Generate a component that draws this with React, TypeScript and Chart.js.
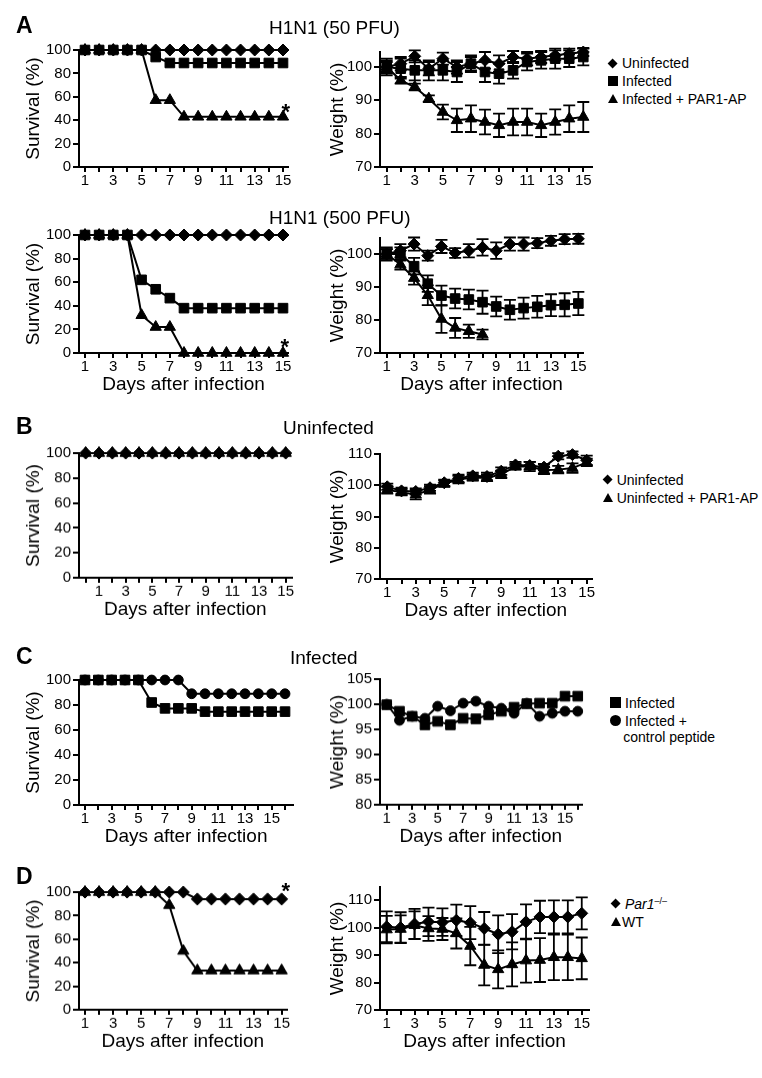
import React, { useEffect, useRef } from "react";
import { Chart, registerables } from "chart.js";
Chart.register(...registerables);

const FONT = "'Liberation Sans', Arial, Helvetica, sans-serif";

// ---------- categories / tick values ----------
const days15 = [1, 2, 3, 4, 5, 6, 7, 8, 9, 10, 11, 12, 13, 14, 15];
const days0to15 = [0, 1, 2, 3, 4, 5, 6, 7, 8, 9, 10, 11, 12, 13, 14, 15];
const days16 = [1, 2, 3, 4, 5, 6, 7, 8, 9, 10, 11, 12, 13, 14, 15, 16];
const oddDayLabels = [1, 3, 5, 7, 9, 11, 13, 15];
const survivalTicks = [0, 20, 40, 60, 80, 100];
const weightTicks70to100 = [70, 80, 90, 100];
const weightTicks70to110 = [70, 80, 90, 100, 110];
const weightTicks80to105 = [80, 85, 90, 95, 100, 105];

// ---------- A: H1N1 (50 PFU) ----------
const a50SurvUninfected = [100, 100, 100, 100, 100, 100, 100, 100, 100, 100, 100, 100, 100, 100, 100];
const a50SurvInfected = [100, 100, 100, 100, 100, 94, 88.9, 88.9, 88.9, 88.9, 88.9, 88.9, 88.9, 88.9, 88.9];
const a50SurvPar1 = [100, 100, 100, 100, 100, 57.1, 57.1, 42.9, 42.9, 42.9, 42.9, 42.9, 42.9, 42.9, 42.9];
const a50WtUninfected = [100, 101, 103.2, 99.5, 102.5, 100, 101, 102, 101, 103, 102.5, 103, 103.5, 104, 104.5];
const a50WtUninfectedErr = [2, 2, 1.8, 2, 1.8, 2, 2, 2.5, 2.5, 1.8, 2, 1.8, 1.5, 1.5, 1.2];
const a50WtInfected = [100, 99.5, 99, 99, 99, 98.5, 101, 98.5, 98, 99, 101.5, 102, 102.5, 102.5, 103];
const a50WtInfectedErr = [2.5, 3, 3, 3, 3, 3, 2.5, 3, 3, 2.5, 2.5, 2.5, 3, 2.5, 2.5];
const a50WtPar1 = [100, 96, 94, 90.5, 86.5, 84, 84.5, 83.5, 82.5, 83.5, 83.5, 82.5, 83.5, 84.5, 85];
const a50WtPar1Err = [1.5, 1, 1, 1, 2.2, 3.5, 4, 3.7, 3.5, 4, 4, 3.5, 3.8, 4, 4.5];

// ---------- A: H1N1 (500 PFU) ----------
const a500SurvUninfected = [100, 100, 100, 100, 100, 100, 100, 100, 100, 100, 100, 100, 100, 100, 100];
const a500SurvInfected = [100, 100, 100, 100, 62, 54, 46.5, 38, 38, 38, 38, 38, 38, 38, 38];
const a500SurvPar1 = [100, 100, 100, 100, 32, 22, 22, 0, 0, 0, 0, 0, 0, 0, 0];
const a500WtUninfected = [100, 101, 103, 99.5, 102.3, 100.3, 101, 102, 101, 103, 103, 103.3, 104, 104.5, 104.6];
const a500WtUninfectedErr = [2, 2, 2, 1.5, 2, 1.5, 2, 2.5, 2.5, 2, 2, 1.5, 1.5, 1.5, 1.5];
const a500WtInfected = [100, 100, 96.3, 91, 87.4, 86.5, 86.2, 85.4, 84.1, 83.1, 83.6, 84, 84.5, 84.6, 85];
const a500WtInfectedErr = [1.5, 2, 2.5, 2.5, 3, 3, 3, 3.5, 3, 3, 3.2, 3.3, 3.3, 3.5, 3.5];
const a500WtPar1 = [100, 96.8, 92.7, 87.5, 80.3, 77.6, 76.6, 75.6];
const a500WtPar1Err = [1.5, 1.5, 2, 3, 4.2, 3, 2, 1.5];

// ---------- B: Uninfected ----------
const bSurvUninfected = [100, 100, 100, 100, 100, 100, 100, 100, 100, 100, 100, 100, 100, 100, 100, 100];
const bSurvPar1 = [100, 100, 100, 100, 100, 100, 100, 100, 100, 100, 100, 100, 100, 100, 100, 100];
const bWtUninfected = [99.5, 98.2, 98, 99.2, 100.8, 102.2, 103, 102.8, 104.5, 106.5, 106.3, 105.8, 109.3, 109.8, 108];
const bWtUninfectedErr = [1, 1, 1, 1, 1, 1.2, 1, 1.2, 1.2, 1, 1.2, 1, 1, 1, 1.5];
const bWtPar1 = [98.5, 97.8, 97, 98.5, 100.5, 101.8, 102.5, 102.3, 103.5, 106, 106, 104.8, 105, 105.5, 107.3];
const bWtPar1Err = [1.2, 1, 1.5, 1.2, 1, 1.2, 1, 1, 1.2, 1, 1.5, 1.2, 1.2, 1.5, 1.2];

// ---------- C: Infected ----------
const cSurvInfected = [100, 100, 100, 100, 100, 82, 77.3, 77.3, 77.3, 74.7, 74.7, 74.7, 74.7, 74.7, 74.7, 74.7];
const cSurvControl = [100, 100, 100, 100, 100, 100, 100, 100, 89, 89, 89, 89, 89, 89, 89, 89];
const cWtInfected = [99.9, 98.6, 97.6, 95.9, 96.6, 95.9, 97.2, 97.1, 97.9, 98.6, 99.4, 100.1, 100.2, 100.2, 101.6, 101.6];
const cWtControl = [100, 96.8, 97.6, 97.2, 99.6, 98.7, 100.2, 100.6, 99.6, 99.2, 98.2, 100.2, 97.6, 98.2, 98.6, 98.6];

// ---------- D: Par1-/- vs WT ----------
const dSurvKO = [100, 100, 100, 100, 100, 100, 100, 100, 94.1, 94.1, 94.1, 94.1, 94.1, 94.1, 94.1];
const dSurvWT = [100, 100, 100, 100, 100, 100, 88.9, 50, 33.3, 33.3, 33.3, 33.3, 33.3, 33.3, 33.3];
const dWtKO = [100.3, 100, 101.3, 102.1, 102, 102.7, 101.8, 99.7, 97.6, 98.5, 102.1, 103.9, 103.9, 103.9, 105.2];
const dWtKOErr = [5.6, 5.6, 5.5, 5.2, 5, 5.7, 6, 6, 6.9, 6.4, 6.4, 5.9, 6, 6, 5.8];
const dWtWT = [99.3, 99.5, 100.9, 99.7, 99.5, 97.9, 93.3, 86.4, 84.8, 86.6, 88, 88.2, 89.2, 89.2, 88.8];
const dWtWTErr = [5, 5, 5, 4.5, 4, 5.5, 7, 7.4, 6.9, 8, 8, 8, 8.3, 8.3, 7.6];

// ---------- rendering ----------
type Kind = "diamond" | "square" | "triangle" | "circle";
type Series = { values: number[]; errors?: number[]; kind: Kind };
type Spec = {
  box: { x: number; y: number; w: number; h: number };
  area: { l: number; t: number; r: number; b: number };
  xMin: number; xMax: number; xTicks: number[]; xLabels: number[];
  yMin: number; yMax: number; yTicks: number[];
  days: number[];
  yTitle: string; yTitleX: number;
  xTitle?: string;
  series: Series[];
};

const markerStyle: Record<Kind, { style: string; r: number }> = {
  diamond: { style: "rectRot", r: 6 },
  square: { style: "rect", r: 6.8 },
  triangle: { style: "triangle", r: 6.5 },
  circle: { style: "circle", r: 4.9 },
};

const errorBarPlugin = {
  id: "errorBars",
  beforeDatasetsDraw(chart: any) {
    const { ctx } = chart;
    const xs = chart.scales.x;
    const ys = chart.scales.y;
    chart.data.datasets.forEach((ds: any) => {
      if (!ds.errors) return;
      ctx.save();
      ctx.strokeStyle = "#000";
      ctx.lineWidth = 1.8;
      ds.data.forEach((p: any, i: number) => {
        const e = ds.errors[i];
        if (!e) return;
        const x = xs.getPixelForValue(p.x);
        const y1 = ys.getPixelForValue(p.y + e);
        const y2 = ys.getPixelForValue(p.y - e);
        ctx.beginPath();
        ctx.moveTo(x, y1);
        ctx.lineTo(x, y2);
        ctx.moveTo(x - 6, y1);
        ctx.lineTo(x + 6, y1);
        ctx.moveTo(x - 6, y2);
        ctx.lineTo(x + 6, y2);
        ctx.stroke();
      });
      ctx.restore();
    });
  },
};

function Panel({ spec }: { spec: Spec }) {
  const ref = useRef<HTMLCanvasElement>(null);
  useEffect(() => {
    const { box, area } = spec;
    const yAxisW = area.l - box.x;
    const xAxisH = box.y + box.h - area.b;
    const titleSize = 19;
    const titleLH = titleSize * 1.2;
    const chart = new Chart(ref.current as HTMLCanvasElement, {
      type: "line",
      data: {
        datasets: spec.series.map((s) => ({
          data: s.values.map((v, i) => ({ x: spec.days[i], y: v })),
          errors: s.errors,
          borderColor: "#000",
          backgroundColor: "#000",
          borderWidth: 2,
          pointStyle: markerStyle[s.kind].style,
          pointRadius: markerStyle[s.kind].r,
          pointBorderWidth: 1,
          pointBackgroundColor: "#000",
          pointBorderColor: "#000",
          tension: 0,
          fill: false,
          clip: false,
        })) as any,
      },
      options: {
        responsive: false,
        animation: false,
        devicePixelRatio: 1,
        events: [],
        layout: {
          padding: { left: 0, top: area.t - box.y, right: box.x + box.w - area.r, bottom: 0 },
        },
        plugins: { legend: { display: false }, tooltip: { enabled: false } },
        scales: {
          x: {
            type: "linear",
            min: spec.xMin,
            max: spec.xMax,
            afterBuildTicks: (sc: any) => {
              sc.ticks = spec.xTicks.map((v) => ({ value: v }));
            },
            afterFit: (sc: any) => {
              sc.height = xAxisH;
            },
            ticks: {
              autoSkip: false,
              maxRotation: 0,
              minRotation: 0,
              padding: 0,
              color: "#000",
              font: { family: FONT, size: 15 },
              callback: (v: any) => (spec.xLabels.includes(Number(v)) ? String(v) : ""),
            },
            grid: { drawOnChartArea: false, drawTicks: true, tickLength: 5, lineWidth: 2, color: "#000" },
            border: { display: true, color: "#000", width: 2 },
            title: {
              display: !!spec.xTitle,
              text: spec.xTitle || "",
              color: "#000",
              font: { family: FONT, size: titleSize },
              padding: { top: 0, bottom: xAxisH - 32 - titleLH / 2 },
            },
          },
          y: {
            type: "linear",
            min: spec.yMin,
            max: spec.yMax,
            afterBuildTicks: (sc: any) => {
              sc.ticks = spec.yTicks.map((v) => ({ value: v }));
            },
            afterFit: (sc: any) => {
              sc.width = yAxisW;
            },
            ticks: { padding: 2, color: "#000", font: { family: FONT, size: 15 } },
            grid: { drawOnChartArea: false, drawTicks: true, tickLength: 6, lineWidth: 2, color: "#000" },
            border: { display: true, color: "#000", width: 2 },
            title: {
              display: true,
              text: spec.yTitle,
              color: "#000",
              font: { family: FONT, size: titleSize },
              padding: { top: spec.yTitleX - box.x - titleLH / 2, bottom: 0 },
            },
          },
        },
      } as any,
      plugins: [errorBarPlugin],
    });
    return () => chart.destroy();
  }, [spec]);
  return (
    <canvas
      ref={ref}
      width={spec.box.w}
      height={spec.box.h}
      style={{ position: "absolute", left: spec.box.x, top: spec.box.y, width: spec.box.w, height: spec.box.h }}
    />
  );
}

const LEFT_X = 10, LEFT_W = 297, RIGHT_X = 322, RIGHT_W = 280;
function boxFor(left: boolean, t: number, b: number) {
  return { x: left ? LEFT_X : RIGHT_X, y: t - 16, w: left ? LEFT_W : RIGHT_W, h: b + 48 - (t - 16) };
}

const SURV = "Survival (%)";
const WEIGHT = "Weight (%)";
const DAYS = "Days after infection";

const specs: Spec[] = [
  {
    box: boxFor(true, 50, 167), area: { l: 79, t: 50, r: 288, b: 167 },
    xMin: 0.576, xMax: 15.354, xTicks: days15, xLabels: oddDayLabels,
    yMin: 0, yMax: 100, yTicks: survivalTicks, days: days15, yTitle: SURV, yTitleX: 34,
    series: [
      { values: a50SurvInfected, kind: "square" },
      { values: a50SurvUninfected, kind: "diamond" },
      { values: a50SurvPar1, kind: "triangle" },
    ],
  },
  {
    box: boxFor(false, 51.7, 166.7), area: { l: 380, t: 51.7, r: 591.7, b: 166.7 },
    xMin: 0.523, xMax: 15.6, xTicks: days15, xLabels: oddDayLabels,
    yMin: 70, yMax: 104.5, yTicks: weightTicks70to100, days: days15, yTitle: WEIGHT, yTitleX: 338,
    series: [
      { values: a50WtUninfected, errors: a50WtUninfectedErr, kind: "diamond" },
      { values: a50WtInfected, errors: a50WtInfectedErr, kind: "square" },
      { values: a50WtPar1, errors: a50WtPar1Err, kind: "triangle" },
    ],
  },
  {
    box: boxFor(true, 235, 353.3), area: { l: 79, t: 235, r: 288, b: 353.3 },
    xMin: 0.576, xMax: 15.354, xTicks: days15, xLabels: oddDayLabels,
    yMin: 0, yMax: 100, yTicks: survivalTicks, days: days15, yTitle: SURV, yTitleX: 34, xTitle: DAYS,
    series: [
      { values: a500SurvInfected, kind: "square" },
      { values: a500SurvUninfected, kind: "diamond" },
      { values: a500SurvPar1, kind: "triangle" },
    ],
  },
  {
    box: boxFor(false, 238.3, 353.3), area: { l: 380, t: 238.3, r: 583, b: 353.3 },
    xMin: 0.51, xMax: 15.34, xTicks: days15, xLabels: oddDayLabels,
    yMin: 70, yMax: 104.85, yTicks: weightTicks70to100, days: days15, yTitle: WEIGHT, yTitleX: 338, xTitle: DAYS,
    series: [
      { values: a500WtUninfected, errors: a500WtUninfectedErr, kind: "diamond" },
      { values: a500WtInfected, errors: a500WtInfectedErr, kind: "square" },
      { values: a500WtPar1, errors: a500WtPar1Err, kind: "triangle" },
    ],
  },
  {
    box: boxFor(true, 453.3, 578.3), area: { l: 79, t: 453.3, r: 291.7, b: 578.3 },
    xMin: -0.5, xMax: 15.45, xTicks: days0to15, xLabels: oddDayLabels,
    yMin: 0, yMax: 100, yTicks: survivalTicks, days: days0to15, yTitle: SURV, yTitleX: 34, xTitle: DAYS,
    series: [
      { values: bSurvPar1, kind: "triangle" },
      { values: bSurvUninfected, kind: "diamond" },
    ],
  },
  {
    box: boxFor(false, 454, 579.3), area: { l: 380, t: 454, r: 591.7, b: 579.3 },
    xMin: 0.49, xMax: 15.35, xTicks: days15, xLabels: oddDayLabels,
    yMin: 70, yMax: 110, yTicks: weightTicks70to110, days: days15, yTitle: WEIGHT, yTitleX: 338, xTitle: DAYS,
    series: [
      { values: bWtUninfected, errors: bWtUninfectedErr, kind: "diamond" },
      { values: bWtPar1, errors: bWtPar1Err, kind: "triangle" },
    ],
  },
  {
    box: boxFor(true, 680, 805), area: { l: 79, t: 680, r: 293.3, b: 805 },
    xMin: 0.55, xMax: 16.62, xTicks: days16, xLabels: oddDayLabels,
    yMin: 0, yMax: 100, yTicks: survivalTicks, days: days16, yTitle: SURV, yTitleX: 34, xTitle: DAYS,
    series: [
      { values: cSurvInfected, kind: "square" },
      { values: cSurvControl, kind: "circle" },
    ],
  },
  {
    box: boxFor(false, 679.3, 805), area: { l: 380, t: 679.3, r: 581.7, b: 805 },
    xMin: 0.47, xMax: 16.31, xTicks: days16, xLabels: oddDayLabels,
    yMin: 80, yMax: 105, yTicks: weightTicks80to105, days: days16, yTitle: WEIGHT, yTitleX: 338, xTitle: DAYS,
    series: [
      { values: cWtInfected, kind: "square" },
      { values: cWtControl, kind: "circle" },
    ],
  },
  {
    box: boxFor(true, 892.3, 1010), area: { l: 79, t: 892.3, r: 286.7, b: 1010 },
    xMin: 0.573, xMax: 15.36, xTicks: days15, xLabels: oddDayLabels,
    yMin: 0, yMax: 100, yTicks: survivalTicks, days: days15, yTitle: SURV, yTitleX: 34, xTitle: DAYS,
    series: [
      { values: dSurvWT, kind: "triangle" },
      { values: dSurvKO, kind: "diamond" },
    ],
  },
  {
    box: boxFor(false, 886.7, 1010), area: { l: 380, t: 886.7, r: 589, b: 1010 },
    xMin: 0.52, xMax: 15.52, xTicks: days15, xLabels: oddDayLabels,
    yMin: 70, yMax: 114.8, yTicks: weightTicks70to110, days: days15, yTitle: WEIGHT, yTitleX: 338, xTitle: DAYS,
    series: [
      { values: dWtKO, errors: dWtKOErr, kind: "diamond" },
      { values: dWtWT, errors: dWtWTErr, kind: "triangle" },
    ],
  },
];

function Txt({ x, y, size, bold, children }: { x: number; y: number; size: number; bold?: boolean; children: any }) {
  return (
    <div
      style={{
        position: "absolute",
        left: x,
        top: y - size * 0.49,
        fontSize: size,
        lineHeight: `${size}px`,
        fontWeight: bold ? "bold" : "normal",
        whiteSpace: "nowrap",
        color: "#000",
      }}
    >
      {children}
    </div>
  );
}

function Star({ cx, cy }: { cx: number; cy: number }) {
  return (
    <div
      style={{
        position: "absolute",
        left: cx - 4.5,
        top: cy - 6.5,
        fontSize: 22,
        fontWeight: "bold",
        lineHeight: "22px",
        color: "#000",
      }}
    >
      *
    </div>
  );
}

function Marker({ kind, cx, cy, s }: { kind: Kind; cx: number; cy: number; s: number }) {
  const base: any = { position: "absolute", background: "#000" };
  if (kind === "diamond") {
    const d = s * 0.72;
    return <div style={{ ...base, left: cx - d / 2, top: cy - d / 2, width: d, height: d, transform: "rotate(45deg)" }} />;
  }
  if (kind === "square") {
    return <div style={{ ...base, left: cx - s / 2, top: cy - s / 2, width: s, height: s }} />;
  }
  if (kind === "circle") {
    return <div style={{ ...base, left: cx - s / 2, top: cy - s / 2, width: s, height: s, borderRadius: "50%" }} />;
  }
  return (
    <div
      style={{
        position: "absolute",
        left: cx - s / 2,
        top: cy - s * 0.5,
        width: 0,
        height: 0,
        borderLeft: `${s / 2}px solid transparent`,
        borderRight: `${s / 2}px solid transparent`,
        borderBottom: `${s * 0.9}px solid #000`,
      }}
    />
  );
}

type LegendRow = { kind?: Kind; text: any; y: number; textX: number };
function Legend({ mx, size, rows }: { mx: number; size: number; rows: LegendRow[] }) {
  return (
    <>
      {rows.map((r, i) => (
        <React.Fragment key={i}>
          {r.kind && <Marker kind={r.kind} cx={mx} cy={r.y} s={size} />}
          <Txt x={r.textX} y={r.y} size={14}>
            {r.text}
          </Txt>
        </React.Fragment>
      ))}
    </>
  );
}

export default function App() {
  return (
    <div
      style={{
        position: "absolute",
        left: 0,
        top: 0,
        width: 762,
        height: 1078,
        background: "#fff",
        fontFamily: FONT,
        overflow: "hidden",
      }}
    >
      {specs.map((s, i) => (
        <Panel key={i} spec={s} />
      ))}

      <Txt x={16} y={25} size={23} bold>A</Txt>
      <Txt x={269} y={27.5} size={19}>H1N1 (50 PFU)</Txt>
      <Txt x={269} y={217.5} size={19}>H1N1 (500 PFU)</Txt>
      <Txt x={16} y={425.8} size={23} bold>B</Txt>
      <Txt x={283} y={427.5} size={19}>Uninfected</Txt>
      <Txt x={16} y={655.8} size={23} bold>C</Txt>
      <Txt x={290} y={657.5} size={19}>Infected</Txt>
      <Txt x={16} y={875.8} size={23} bold>D</Txt>

      <Star cx={286} cy={107.5} />
      <Star cx={285} cy={342} />
      <Star cx={286} cy={886} />

      <Legend
        mx={613}
        size={10}
        rows={[
          { kind: "diamond", text: "Uninfected", y: 63.3, textX: 622 },
          { kind: "square", text: "Infected", y: 80.7, textX: 622 },
          { kind: "triangle", text: "Infected + PAR1-AP", y: 99, textX: 622 },
        ]}
      />
      <Legend
        mx={607.5}
        size={10}
        rows={[
          { kind: "diamond", text: "Uninfected", y: 480, textX: 616.7 },
          { kind: "triangle", text: "Uninfected + PAR1-AP", y: 497.7, textX: 616.7 },
        ]}
      />
      <Legend
        mx={615.5}
        size={11}
        rows={[
          { kind: "square", text: "Infected", y: 702.5, textX: 625 },
          { kind: "circle", text: "Infected +", y: 720.8, textX: 625 },
          { text: "control peptide", y: 737.3, textX: 623.3 },
        ]}
      />
      <Legend
        mx={615.5}
        size={10}
        rows={[
          {
            kind: "diamond",
            text: (
              <span>
                <i>Par1</i>
                <span style={{ fontSize: 9, position: "relative", top: -5 }}>–/–</span>
              </span>
            ),
            y: 903.5,
            textX: 625,
          },
          { kind: "triangle", text: "WT", y: 921.5, textX: 622 },
        ]}
      />
    </div>
  );
}
